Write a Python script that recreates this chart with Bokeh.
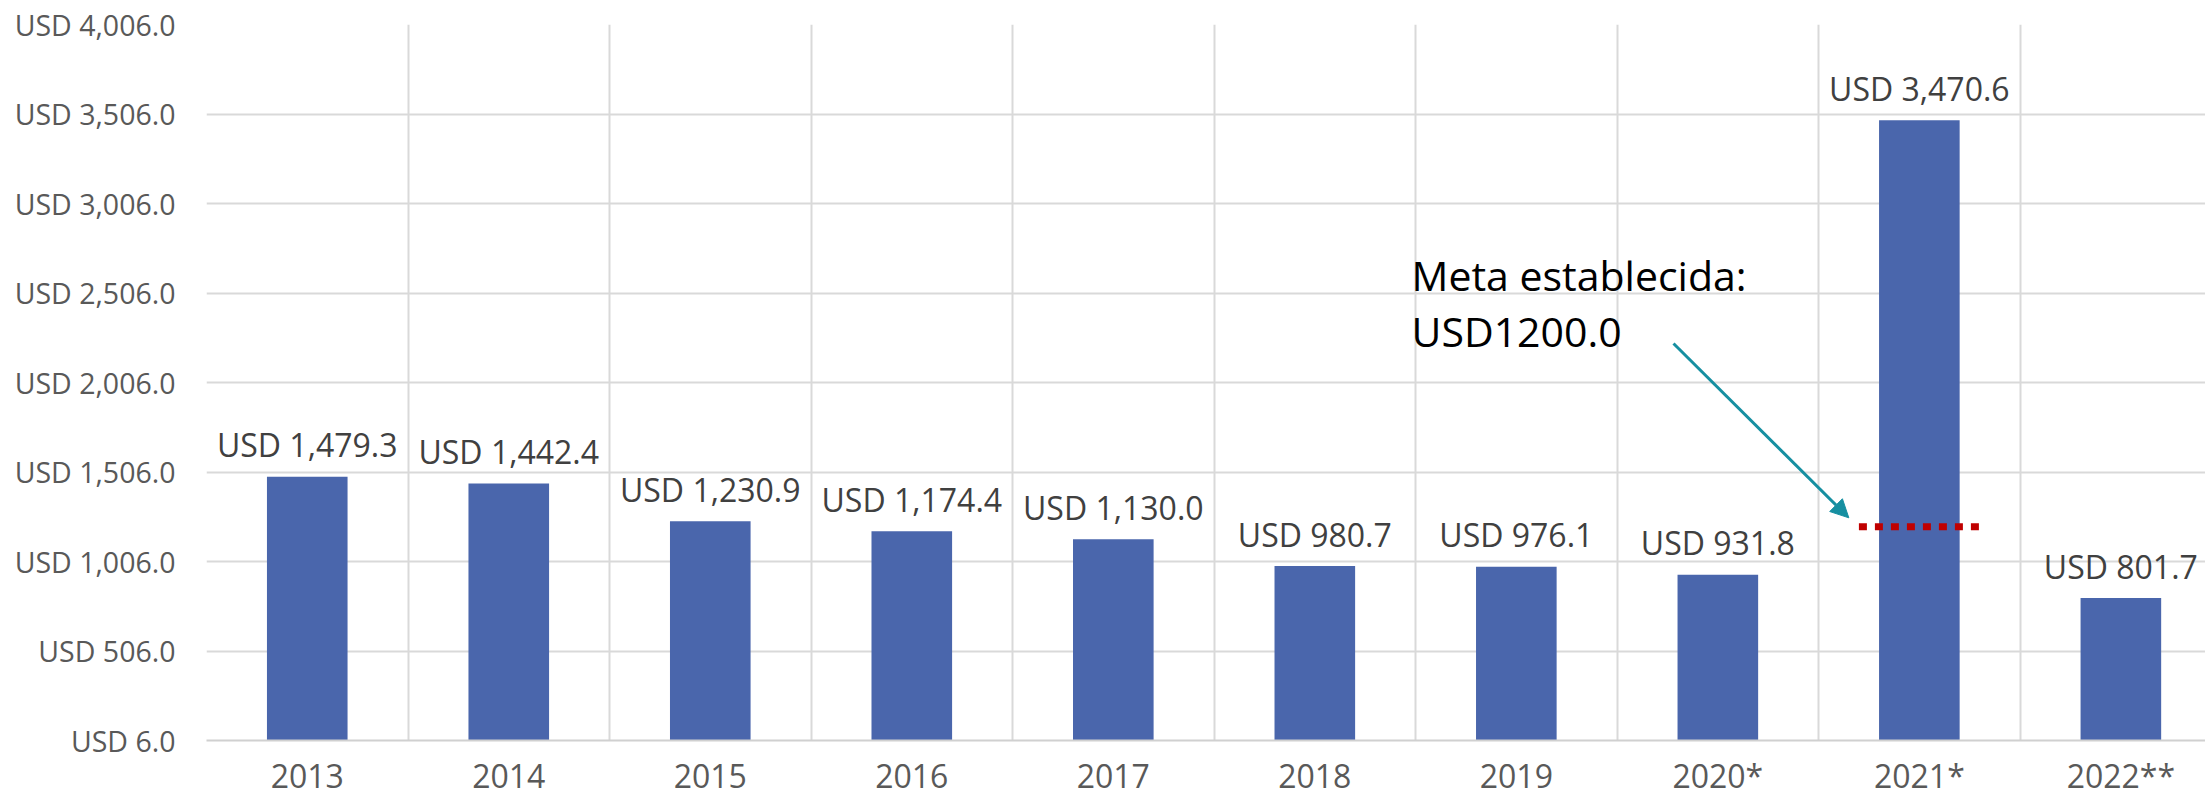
from bokeh.plotting import figure
from bokeh.models import ColumnDataSource, FixedTicker, Range1d, Label, Arrow, NormalHead
from bokeh.core.properties import value
from bokeh.embed import file_html
from bokeh.resources import INLINE

categories = ["2013", "2014", "2015", "2016", "2017", "2018", "2019", "2020*", "2021*", "2022**"]
values = [1479.3, 1442.4, 1230.9, 1174.4, 1130.0, 980.7, 976.1, 931.8, 3470.6, 801.7]
y_ticks = [6.0, 506.0, 1006.0, 1506.0, 2006.0, 2506.0, 3006.0, 3506.0, 4006.0]
meta_value = 1200.0
meta_text = ["Meta establecida:", "USD1200.0"]

FONT = "Open Sans"
idx = list(range(len(categories)))
labels = [f"USD {v:,.1f}" for v in values]
src = ColumnDataSource(dict(x=idx, top=values, label=labels))

p = figure(width=2205, height=802, output_backend="svg", toolbar_location=None,
           x_range=Range1d(-0.5, 9.42), y_range=Range1d(6.0, 4006.0),
           min_border_left=206, min_border_top=24, min_border_right=0, min_border_bottom=62)
p.outline_line_color = None
p.background_fill_color = "white"

p.vbar(x="x", top="top", bottom=0, width=0.4, source=src, fill_color="#4A66AC", line_color=None)

p.text(x="x", y="top", text="label", source=src, text_align="center", text_baseline="alphabetic",
       y_offset=-32, text_font=value(FONT), text_font_size="32px", text_color="#404040")

# axes
for ax in (p.xaxis[0], p.yaxis[0]):
    ax.major_tick_line_color = None
    ax.minor_tick_line_color = None
    ax.major_tick_out = 0
    ax.major_tick_in = 0
    ax.minor_tick_out = 0
    ax.minor_tick_in = 0
    ax.major_label_text_font = FONT
    ax.major_label_text_color = "#595959"

p.yaxis.ticker = FixedTicker(ticks=y_ticks)
p.yaxis.major_label_overrides = {t: f"USD {t:,.1f}" for t in y_ticks}
p.yaxis.axis_line_color = None
p.yaxis.major_label_standoff = 31
p.yaxis.major_label_text_font_size = "28.5px"

p.xaxis.ticker = FixedTicker(ticks=idx)
p.xaxis.major_label_overrides = {i: c for i, c in zip(idx, categories)}
p.xaxis.axis_line_color = "#D0D0D0"
p.xaxis.axis_line_width = 2
p.xaxis.major_label_standoff = 13
p.xaxis.major_label_text_font_size = "32px"

p.ygrid.ticker = FixedTicker(ticks=y_ticks)
p.ygrid.grid_line_color = "#D9D9D9"
p.ygrid.grid_line_width = 2
p.xgrid.ticker = FixedTicker(ticks=[i - 0.5 for i in idx])
p.xgrid.grid_line_color = "#D9D9D9"
p.xgrid.grid_line_width = 2

# target line
p.line(x=[7.70, 8.33], y=[meta_value, meta_value], line_color="#C00000", line_width=7,
       line_dash="8 8")

# annotation
p.add_layout(Label(x=5.48, y=2606, text=meta_text[0], text_font=FONT, text_font_size="41px",
                   text_color="black", text_baseline="alphabetic"))
p.add_layout(Label(x=5.48, y=2296, text=meta_text[1], text_font=FONT, text_font_size="41px",
                   text_color="black", text_baseline="alphabetic"))
p.add_layout(Arrow(x_start=6.78, y_start=2224, x_end=7.65, y_end=meta_value + 50,
                   line_color="#168FA1", line_width=3,
                   end=NormalHead(size=18, fill_color="#168FA1", line_color="#168FA1")))

open("out.html", "w").write(file_html(p, INLINE))
